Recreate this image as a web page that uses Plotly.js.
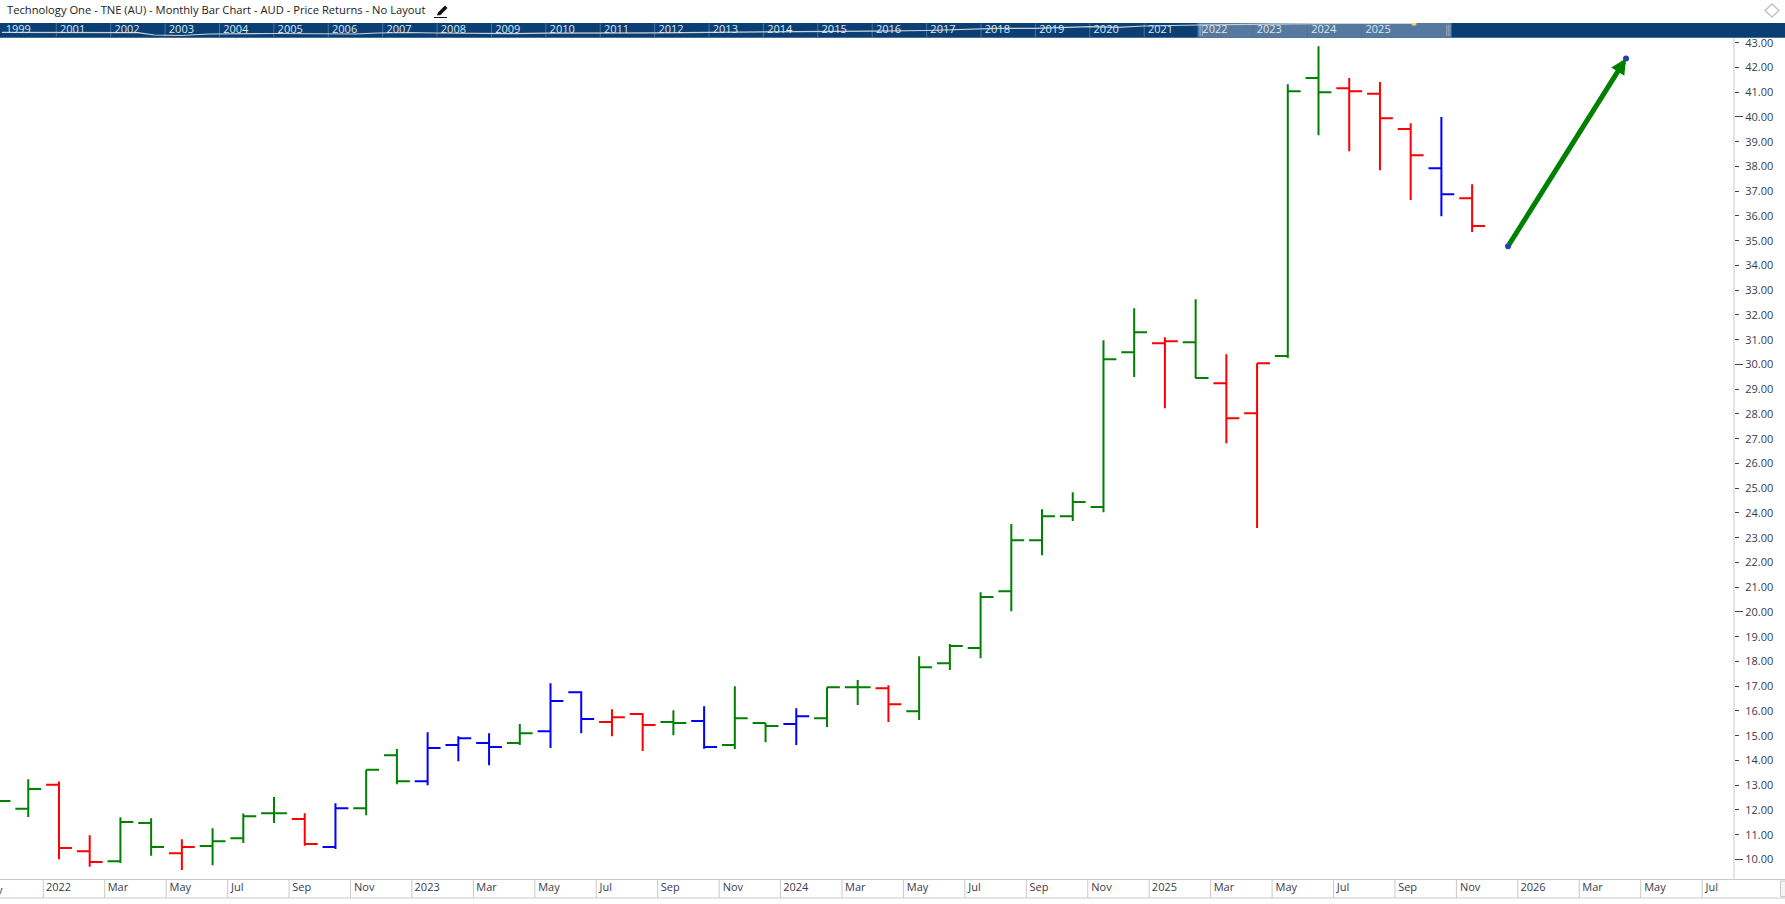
<!DOCTYPE html>
<html>
<head>
<meta charset="utf-8">
<title>Technology One - TNE (AU)</title>
<script src="https://cdn.plot.ly/plotly-3.0.1.min.js"></script>
<style>html,body{margin:0;padding:0;background:#fff;overflow:hidden}</style>
</head>
<body>
<div id="chart" style="width:1785px;height:904px"></div>
<script>
// ---- bar data (monthly) ----
var months = ['2021-11','2021-12','2022-01','2022-02','2022-03','2022-04','2022-05','2022-06','2022-07','2022-08','2022-09','2022-10','2022-11','2022-12',
  '2023-01','2023-02','2023-03','2023-04','2023-05','2023-06','2023-07','2023-08','2023-09','2023-10','2023-11','2023-12',
  '2024-01','2024-02','2024-03','2024-04','2024-05','2024-06','2024-07','2024-08','2024-09','2024-10','2024-11','2024-12',
  '2025-01','2025-02','2025-03','2025-04','2025-05','2025-06','2025-07','2025-08','2025-09','2025-10','2025-11'];
var opens  = [12.00,12.05,13.02,10.33, 9.93,11.47,10.25,10.54,10.86,11.87,11.63,10.50,12.07,14.21,
  13.16,14.62,14.70,14.70,15.18,16.76,15.55,15.88,15.55,15.59,14.62,15.51,
  15.47,15.71,16.96,16.92,15.99,17.93,18.54,20.84,22.90,23.87,24.24,30.49,
  30.86,30.90,29.24,28.03,30.34,41.57,41.16,40.94,39.51,37.93,36.72];
var highs  = [12.60,13.24,13.15,10.98,11.71,11.66,10.82,11.26,11.86,12.52,11.87,12.27,13.62,14.46,
  15.14,14.98,15.10,15.47,17.12,16.80,16.07,15.91,16.03,16.19,17.00,15.51,
  16.11,16.96,17.25,17.04,18.21,18.70,20.80,23.55,24.15,24.84,30.98,32.27,
  31.10,32.63,30.41,30.05,41.32,42.86,41.57,41.41,39.75,40.00,37.28];
var lows   = [11.90,11.72,10.01, 9.70, 9.86,10.15, 9.57, 9.77,10.66,11.47,10.55,10.42,11.79,13.04,
  13.00,13.97,13.81,14.62,14.50,15.10,14.98,14.38,15.02,14.47,14.46,14.74,
  14.62,15.35,16.24,15.55,15.63,17.65,18.13,20.03,22.29,23.67,24.03,29.49,
  28.23,29.43,26.82,23.39,30.26,39.26,38.61,37.85,36.64,35.99,35.35];
var closes = [12.36,12.85,10.46, 9.90,11.51,10.50,10.50,10.74,11.75,11.87,10.62,12.07,13.62,13.16,
  14.50,14.90,14.54,15.10,16.40,15.67,15.75,15.43,15.51,14.54,15.71,15.39,
  15.79,16.96,16.96,16.27,17.77,18.62,20.60,22.90,23.87,24.44,30.21,31.30,
  30.94,29.45,27.83,30.05,41.04,41.00,41.04,39.95,38.45,36.88,35.59];
var barKinds = ['g','g','r','r','g','g','r','g','g','g','r','b','g','g',
  'b','b','b','g','b','b','r','r','g','b','g','g',
  'b','g','g','r','g','g','g','g','g','g','g','g',
  'r','g','r','r','g','g','r','r','r','b','r'];
var kindColors = {g:'#008000', r:'#ff0000', b:'#0000ff'};

// ---- drawn arrow (month position, price) ----
var arrowX = [47.17, 51.01];
var arrowY = [34.78, 42.36];

// ---- axis labels ----
var yTicks = [10,11,12,13,14,15,16,17,18,19,20,21,22,23,24,25,26,27,28,29,30,31,32,33,34,35,36,37,38,39,40,41,42,43];
var yMajor = [10,20,30,40];
var monthTicks = [0,2,4,6,8,10,12,14,16,18,20,22,24,26,28,30,32,34,36,38,40,42,44,46,48,50,52,54];
var monthTickText = ['2022','Mar','May','Jul','Sep','Nov','2023','Mar','May','Jul','Sep','Nov','2024','Mar','May','Jul','Sep','Nov','2025','Mar','May','Jul','Sep','Nov','2026','Mar','May','Jul'];
var clippedTickText = 'Nov';
var labelNudge = {Mar:-0.08, May:-0.05, Jul:-0.2, Sep:-0.1, Nov:-0.065};

// ---- navigator strip ----
var navTickText = ['1999','2001','2002','2003','2004','2005','2006','2007','2008','2009','2010','2011','2012','2013','2014','2015','2016','2017','2018','2019','2020','2021','2022','2023','2024','2025'];
var navYears  = [2000,2001,2002,2002.5,2002.8,2003.3,2003.8,2005,2006.5,2006.9,2007.5,2007.7,2008,2009.4,2010,2012,2014,2015,2016,2017,2018,2018.3,2019,2020,2020.5,2021,2022,2023,2024,2024.6,2025.95];
var navLevel  = [5.3,5.3,5.2,5.0,2.7,2.2,3.7,4.2,3.7,4.7,5.2,4.7,4.7,4.0,4.6,4.9,5.4,5.9,6.6,7.2,8.5,9.4,9.4,11,10.4,11.7,12.7,13.4,13.7,14.4,14.4];
var navSelection = [2021.98, 2026.65];
var navMarkerYear = 2025.96;

var W = 1785, H = 904;
var px = function(x){ return x / W; };
var py = function(y){ return 1 - y / H; };

var pos = months.map(function(m){ return months.indexOf(m) - 2; });
function pick(arr, kind){ return arr.filter(function(_, i){ return barKinds[i] === kind; }); }

var traces = ['g','r','b'].map(function(k){
  var c = kindColors[k];
  return {
    type:'ohlc', x:pick(pos,k), open:pick(opens,k), high:pick(highs,k), low:pick(lows,k), close:pick(closes,k),
    increasing:{line:{color:c,width:2}}, decreasing:{line:{color:c,width:2}},
    tickwidth:0.42, hoverinfo:'skip', showlegend:false, xaxis:'x', yaxis:'y'
  };
});
// end-point dots of the drawn arrow
traces.push({type:'scatter', mode:'markers', x:arrowX, y:arrowY, marker:{size:6, color:'#1f3fb5', line:{width:0}}, hoverinfo:'skip', showlegend:false, xaxis:'x', yaxis:'y', cliponaxis:false});
// navigator line + marker
traces.push({type:'scatter', mode:'lines', x:navYears, y:navLevel, line:{color:'#c9d2da', width:1.2}, hoverinfo:'skip', showlegend:false, xaxis:'x2', yaxis:'y2'});
traces.push({type:'scatter', mode:'markers', x:[navMarkerYear], y:[14.4], marker:{size:5, color:'#e8d860', line:{width:0}}, hoverinfo:'skip', showlegend:false, xaxis:'x2', yaxis:'y2'});
// carrier for the longer ticks on the price axis
traces.push({type:'scatter', mode:'markers', x:[0], y:[10], marker:{opacity:0}, hoverinfo:'skip', showlegend:false, xaxis:'x', yaxis:'y3'});

var priceRange = [9.21, 43.19];
var grey = '#c9c9c9';
var shapes = [
  {type:'rect', xref:'paper', yref:'paper', x0:0, x1:1, y0:py(37.7), y1:py(23), fillcolor:'#0b3f73', line:{width:0}, layer:'below'},
  {type:'rect', xref:'x2', yref:'paper', x0:navSelection[0], x1:navSelection[1], y0:py(37.7), y1:py(23), fillcolor:'#56799f', line:{width:0}, layer:'below'},
  {type:'line', xref:'paper', yref:'paper', x0:0, x1:1, y0:py(879.5), y1:py(879.5), line:{color:grey,width:1}},
  {type:'line', xref:'paper', yref:'paper', x0:0, x1:1, y0:py(898), y1:py(898), line:{color:grey,width:1}},
  {type:'line', xref:'paper', yref:'paper', x0:px(1734), x1:px(1734), y0:py(38), y1:py(879), line:{color:grey,width:1}},
  {type:'rect', xref:'paper', yref:'paper', x0:px(1780.5), x1:px(1790), y0:py(881), y1:py(896.5), fillcolor:'#f4f4f4', line:{color:grey,width:1}},
  // diamond, top right
  {type:'path', xref:'paper', yref:'paper', path:'M'+px(1772)+','+py(4)+' L'+px(1779)+','+py(10.5)+' L'+px(1772)+','+py(17)+' L'+px(1765)+','+py(10.5)+' Z', fillcolor:'#ffffff', line:{color:'#c4c4c4',width:1.5}},
  // pencil next to the title
  {type:'path', xref:'paper', yref:'paper', path:'M'+px(438)+','+py(12.5)+' L'+px(445)+','+py(5.5)+' L'+px(447.5)+','+py(8)+' L'+px(440.5)+','+py(15)+' L'+px(437)+','+py(15.5)+' Z', fillcolor:'#111111', line:{width:0}},
  {type:'line', xref:'paper', yref:'paper', x0:px(434), x1:px(447), y0:py(17.5), y1:py(17.5), line:{color:'#111111',width:1}}
];
// selection grips
[navSelection[0], navSelection[1]].forEach(function(s, j){
  [-0.03, 0.0, 0.03].forEach(function(d){
    var xx = s + (j === 0 ? 0.06 : -0.06) + d;
    shapes.push({type:'line', xref:'x2', yref:'paper', x0:xx, x1:xx, y0:py(36), y1:py(24.5), line:{color:'#9fb0c2',width:0.8}, layer:'below'});
  });
});
// bottom axis separators
monthTicks.forEach(function(t){
  shapes.push({type:'line', xref:'x', yref:'paper', x0:t-0.511, x1:t-0.511, y0:py(879.5), y1:py(898), line:{color:grey,width:1}});
});
// navigator separators
for (var n = 1; n < navTickText.length; n++) {
  var yr = 2000 + n;
  shapes.push({type:'line', xref:'x2', yref:'paper', x0:yr, x1:yr, y0:py(37.7), y1:py(23), line:{color:'#4a7199',width:1}, layer:'below'});
}

var ticksForAxis = monthTicks.map(function(t, i){ return t + (labelNudge[monthTickText[i]] || -0.016); });
var monoFont = '"Open Sans", sans-serif';

var layout = {
  width:W, height:H,
  margin:{l:0,r:0,t:0,b:0,pad:0},
  paper_bgcolor:'#ffffff', plot_bgcolor:'rgba(0,0,0,0)',
  showlegend:false, dragmode:false, hovermode:false,
  font:{family:monoFont, size:11, color:'#3a3a4c'},
  title:{text:'Technology One - TNE (AU) - Monthly Bar Chart - AUD - Price Returns - No Layout',
    x:px(7), xanchor:'left', xref:'container', y:py(10.5), yanchor:'middle', yref:'container',
    font:{family:monoFont, size:11.2, color:'#222222'}},
  xaxis:{domain:[0,px(1734)], range:[-1.92,54.525], type:'linear', anchor:'y',
    rangeslider:{visible:false},
    tickmode:'array', tickvals:ticksForAxis, ticktext:monthTickText,
    ticks:'', showgrid:false, zeroline:false, showline:false, tickangle:0, ticklabelstandoff:0,
    tickfont:{family:monoFont, size:11, color:'#3a3a4c'}, fixedrange:true},
  yaxis:{domain:[py(879),py(38)], range:priceRange, type:'linear', side:'right', anchor:'x',
    tickmode:'array', tickvals:yTicks, ticktext:yTicks.map(function(v){return v.toFixed(2);}),
    ticks:'outside', ticklen:4, tickwidth:1, tickcolor:'#444444', ticklabelstandoff:4,
    showgrid:false, zeroline:false, showline:false,
    tickfont:{family:monoFont, size:11, color:'#3a3a4c'}, fixedrange:true},
  yaxis3:{overlaying:'y', anchor:'x', side:'right', range:priceRange, type:'linear',
    tickmode:'array', tickvals:yMajor, ticks:'outside', ticklen:8, tickwidth:1, tickcolor:'#444444',
    showticklabels:false, showgrid:false, zeroline:false, showline:false, fixedrange:true},
  xaxis2:{domain:[0,1], range:[1999.965,2032.78], type:'linear', anchor:'y2',
    tickmode:'array', tickvals:navTickText.map(function(_,i){ return 2000.30 + i; }), ticktext:navTickText,
    ticklabelposition:'inside', ticks:'', showgrid:false, zeroline:false, showline:false, tickangle:0,
    tickfont:{family:monoFont, size:11, color:'#dfe6ee'}, fixedrange:true},
  yaxis2:{domain:[py(37.7),py(23)], range:[0,14.7], type:'linear', anchor:'x2',
    showticklabels:false, ticks:'', showgrid:false, zeroline:false, showline:false, fixedrange:true},
  shapes:shapes,
  annotations:[
    {xref:'x', yref:'y', axref:'x', ayref:'y', x:arrowX[1], y:arrowY[1], ax:arrowX[0], ay:arrowY[0], text:'',
     showarrow:true, arrowhead:2, arrowsize:0.62, arrowwidth:5, arrowcolor:'#008000', standoff:0, startstandoff:0},
    {xref:'paper', yref:'paper', x:px(4.5), y:py(889), xanchor:'right', yanchor:'middle', text:clippedTickText, showarrow:false,
     font:{family:monoFont, size:11, color:'#3a3a4c'}}
  ]
};

Plotly.newPlot('chart', traces, layout, {displayModeBar:false, staticPlot:true, responsive:false});
</script>
</body>
</html>
